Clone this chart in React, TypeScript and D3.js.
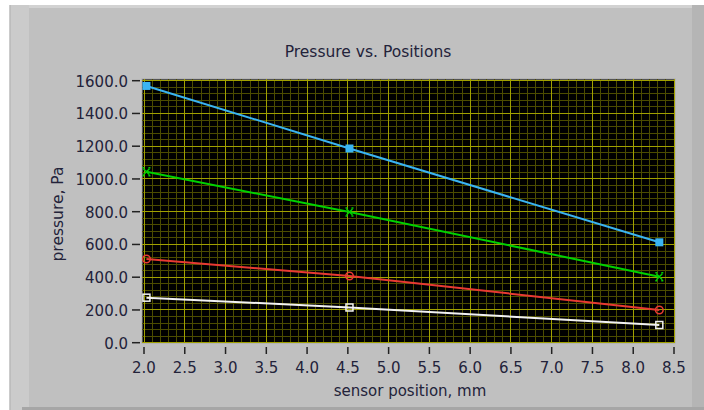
import React from "react";
import * as d3 from "d3";

// sensor positions (mm) and pressures (Pa)
const positions = [2.03, 4.52, 8.32];
const bluePressure = [1568, 1186, 613];
const greenPressure = [1044, 798, 403];
const redPressure = [511, 407, 200];
const whitePressure = [275, 215, 108];

const xTicks = [2.0, 2.5, 3.0, 3.5, 4.0, 4.5, 5.0, 5.5, 6.0, 6.5, 7.0, 7.5, 8.0, 8.5];
const yTicks = [0, 200, 400, 600, 800, 1000, 1200, 1400, 1600];

const series = [
  { name: "blue", values: bluePressure, color: "#3ab4f2", marker: "fsquare" },
  { name: "green", values: greenPressure, color: "#00d200", marker: "x" },
  { name: "red", values: redPressure, color: "#e83a32", marker: "circle" },
  { name: "white", values: whitePressure, color: "#f2f2f2", marker: "square" },
];

const width = 704;
const height = 410;
const plot = { left: 142, right: 675, top: 79, bottom: 343 };
const font = "'DejaVu Sans', sans-serif";
const textColor = "#23233a";

const App = () => {
  const x = d3.scaleLinear().domain([2, 8.5]).range([144, 674]);
  const y = d3.scaleLinear().domain([0, 1600]).range([342.7, 80.7]);

  const minorX = d3.range(20, 86).map(d => d / 10).filter(d => Math.round(d * 10) % 5 !== 0);
  const minorY = d3.range(0, 1601, 40).filter(d => d % 200 !== 0);

  const line = d3
    .line<number>()
    .x((d, i) => x(positions[i]))
    .y(d => y(d));

  const marker = (type: string, cx: number, cy: number, color: string, key: string) => {
    if (type === "fsquare")
      return <rect key={key} x={cx - 4} y={cy - 4} width={8} height={8} fill={color} />;
    if (type === "square")
      return (
        <rect key={key} x={cx - 3.5} y={cy - 3.5} width={7} height={7} fill="none" stroke={color} strokeWidth={1.5} />
      );
    if (type === "circle")
      return <circle key={key} cx={cx} cy={cy} r={3.8} fill="none" stroke={color} strokeWidth={1.5} />;
    return (
      <g key={key} stroke={color} strokeWidth={1.4} fill="none">
        <path d={`M${cx - 3},${cy - 3}L${cx + 3},${cy + 3}M${cx - 3},${cy + 3}L${cx + 3},${cy - 3}`} />
        <path d={`M${cx - 4},${cy - 4}L${cx - 2},${cy - 4}M${cx + 2},${cy - 4}L${cx + 4},${cy - 4}M${cx - 4},${cy + 4}L${cx - 2},${cy + 4}M${cx + 2},${cy + 4}L${cx + 4},${cy + 4}`} />
      </g>
    );
  };

  return (
    <svg
      width={width}
      height={height}
      style={{ position: "absolute", left: 0, top: 0 }}
      fontFamily={font}
    >
      {/* panel frame */}
      <rect x={0} y={0} width={width} height={height} fill="#ffffff" />
      <rect x={9} y={5} width={width - 9} height={height - 5} fill="#c0c0c0" />
      <rect x={9} y={5} width={width - 9} height={3} fill="#d2d2d2" />
      <rect x={9} y={5} width={20} height={height - 5} fill="#cbcbcb" />
      <rect x={10} y={5} width={1} height={height - 5} fill="#bdbdbd" />
      <rect x={692} y={5} width={12} height={height - 5} fill="#b5b5b5" />
      <rect x={22} y={407} width={width - 22} height={3} fill="#a6a6a6" />

      <text x={368} y={57} textAnchor="middle" fontSize={15.5} fill={textColor}>
        Pressure vs. Positions
      </text>

      {/* plot area */}
      <rect
        x={plot.left}
        y={plot.top}
        width={plot.right - plot.left}
        height={plot.bottom - plot.top}
        fill="#000000"
        stroke="#a8a8a8"
      />
      <g shapeRendering="crispEdges" strokeWidth={1}>
        {minorX.map(d => (
          <line key={"mx" + d} x1={x(d)} x2={x(d)} y1={plot.top} y2={plot.bottom} stroke="#4c4c00" />
        ))}
        {minorY.map(d => (
          <line key={"my" + d} x1={plot.left} x2={plot.right} y1={y(d)} y2={y(d)} stroke="#4c4c00" />
        ))}
        {xTicks.map(d => (
          <line key={"gx" + d} x1={x(d)} x2={x(d)} y1={plot.top} y2={plot.bottom} stroke="#a0a000" />
        ))}
        {yTicks.map(d => (
          <line key={"gy" + d} x1={plot.left} x2={plot.right} y1={y(d)} y2={y(d)} stroke="#a0a000" />
        ))}
      </g>

      {series.map(s => (
        <g key={s.name}>
          <path d={line(s.values) || ""} fill="none" stroke={s.color} strokeWidth={2} />
          {s.values.map((v, i) => marker(s.marker, x(positions[i]), y(v), s.color, s.name + i))}
        </g>
      ))}

      {/* axes */}
      <g fontSize={15} fill={textColor}>
        {yTicks.map(d => (
          <g key={"yt" + d}>
            <line x1={132} x2={140} y1={y(d)} y2={y(d)} stroke="#222" strokeWidth={1.5} />
            <text x={128} y={y(d) + 6} textAnchor="end">
              {d3.format(".1f")(d)}
            </text>
          </g>
        ))}
        {xTicks.map(d => (
          <g key={"xt" + d}>
            <line x1={x(d)} x2={x(d)} y1={347} y2={354} stroke="#222" strokeWidth={1.5} />
            <text x={x(d)} y={373} textAnchor="middle">
              {d3.format(".1f")(d)}
            </text>
          </g>
        ))}
        <text x={410} y={396} textAnchor="middle">
          sensor position, mm
        </text>
        <text transform="translate(63,214) rotate(-90)" textAnchor="middle" fontSize={15.5}>
          pressure, Pa
        </text>
      </g>
    </svg>
  );
};

export default App;
